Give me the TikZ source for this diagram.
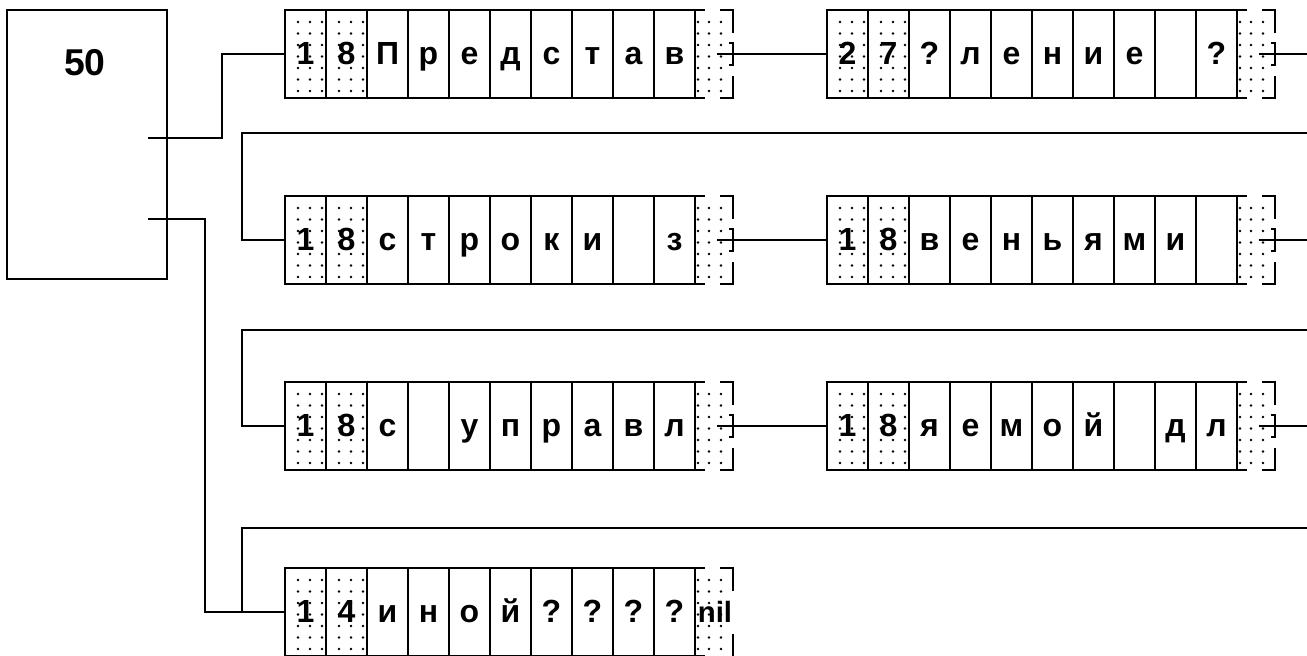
\documentclass[tikz,border=0pt]{standalone}
\usepackage{fontspec}
\setmainfont{Liberation Sans}
\usepackage{tikz}
\usetikzlibrary{calc}
\tikzset
{
  cell/.style={draw,line width=1.4pt,minimum width=30.75pt,minimum height=66pt,inner sep=0pt,
    font=\bfseries\fontsize{24}{26}\selectfont,text height=19pt,text depth=3pt},
  headbox/.style={draw,line width=1.5pt,minimum width=120pt,minimum height=201.75pt},
  link/.style={draw,line width=1.4pt},
  bracket/.style={draw,line width=1.4pt}
}
% one record: name, left, top, the ten fields
\newcommand{\listrec}[4]{%
  \foreach \dx in {13,25,37} \foreach \dy in {0,...,6}
    {\fill ({#2+\dx},{#3+12+11.5*\dy}) circle (0.95pt);
     \fill ({#2+41+\dx},{#3+12+11.5*\dy}) circle (0.95pt);}
  \foreach \c [count=\i] in {#4}
    \node[cell] (#1-\i) at ({#2+41*\i-20.5},{#3+44}) {\c};
}
% pointer field of a record: name, left, top
\newcommand{\ptrcell}[3]{%
  \foreach \dx in {3,14,26} \foreach \dy in {0,...,6}
    \fill ({#2+\dx},{#3+12+11.5*\dy}) circle (0.95pt);
  \draw[bracket] (#2,#3) -- ++(10,0) (#2,{#3+88}) -- ++(10,0);
  \draw[bracket] ({#2+25},#3) -- ({#2+38},#3) -- ({#2+38},{#3+23});
  \draw[bracket] ({#2+34},{#3+33}) -- ({#2+38},{#3+33}) -- ({#2+38},{#3+55}) -- ({#2+34},{#3+55});
  \draw[bracket] ({#2+38},{#3+66}) -- ({#2+38},{#3+88}) -- ({#2+25},{#3+88});
  \coordinate (#1-out) at ({#2+22},{#3+44});
}
\begin{document}
\begin{tikzpicture}[x=0.75pt,y=-0.75pt]
        \useasboundingbox (0,0) rectangle (1307,656);

        % Head of the list
        \node[headbox] (head) at (87,144.5) {};
        \node[font=\bfseries\fontsize{28}{30}\selectfont] (headval) at (85,63) {50};

        % Records
        \listrec{r1a}{285}{10}{1,8,П,р,е,д,с,т,а,в}
        \ptrcell{r1a}{695}{10}
        \listrec{r1b}{827}{10}{2,7,?,л,е,н,и,е,{},?}
        \ptrcell{r1b}{1237}{10}
        \listrec{r2a}{285}{196}{1,8,с,т,р,о,к,и,{},з}
        \ptrcell{r2a}{695}{196}
        \listrec{r2b}{827}{196}{1,8,в,е,н,ь,я,м,и,{}}
        \ptrcell{r2b}{1237}{196}
        \listrec{r3a}{285}{382}{1,8,с,{},у,п,р,а,в,л}
        \ptrcell{r3a}{695}{382}
        \listrec{r3b}{827}{382}{1,8,я,е,м,о,й,{},д,л}
        \ptrcell{r3b}{1237}{382}
        \listrec{r4a}{285}{568}{1,4,и,н,о,й,?,?,?,?}
        \foreach \dx in {3,14,26} \foreach \dy in {0,...,6}
            \fill ({695+\dx},{568+12+11.5*\dy}) circle (0.95pt);
        \draw[bracket] (695,568) -- ++(10,0) (695,656) -- ++(10,0);
        \draw[bracket] (720,568) -- (733,568) -- (733,591);
        \draw[bracket] (733,634) -- (733,656);
        \node[cell,draw=none,font=\bfseries\fontsize{22}{24}\selectfont] (r4a-p) at (715,612) {nil};

        % Links from the head
        \coordinate (h1) at (148,138);
        \coordinate (h2) at (148,219);
        \draw[link] (h1) -- ++(74,0) |- (r1a-1.west);
        \draw[link] (h2) -- ++(57,0) |- (r4a-1.west);

        % Links between records
        \coordinate (r1b-end) at (1307,54);
        \coordinate (r2b-end) at (1307,240);
        \coordinate (r3b-end) at (1307,426);
        \coordinate (w1) at (1307,133);
        \coordinate (w2) at (1307,330);
        \coordinate (w3) at (1307,528);
        \draw[link] (r1a-out) -- (r1b-1.west);
        \draw[link] (r1b-out) -- (r1b-end);
        \draw[link] (w1) -| ($(r2a-1.west)+(-42,0)$) -- (r2a-1.west);
        \draw[link] (r2a-out) -- (r2b-1.west);
        \draw[link] (r2b-out) -- (r2b-end);
        \draw[link] (w2) -| ($(r3a-1.west)+(-42,0)$) -- (r3a-1.west);
        \draw[link] (r3a-out) -- (r3b-1.west);
        \draw[link] (r3b-out) -- (r3b-end);
        \draw[link] (w3) -| ($(r4a-1.west)+(-42,0)$) -- (r4a-1.west);
    \end{tikzpicture}
\end{document}
